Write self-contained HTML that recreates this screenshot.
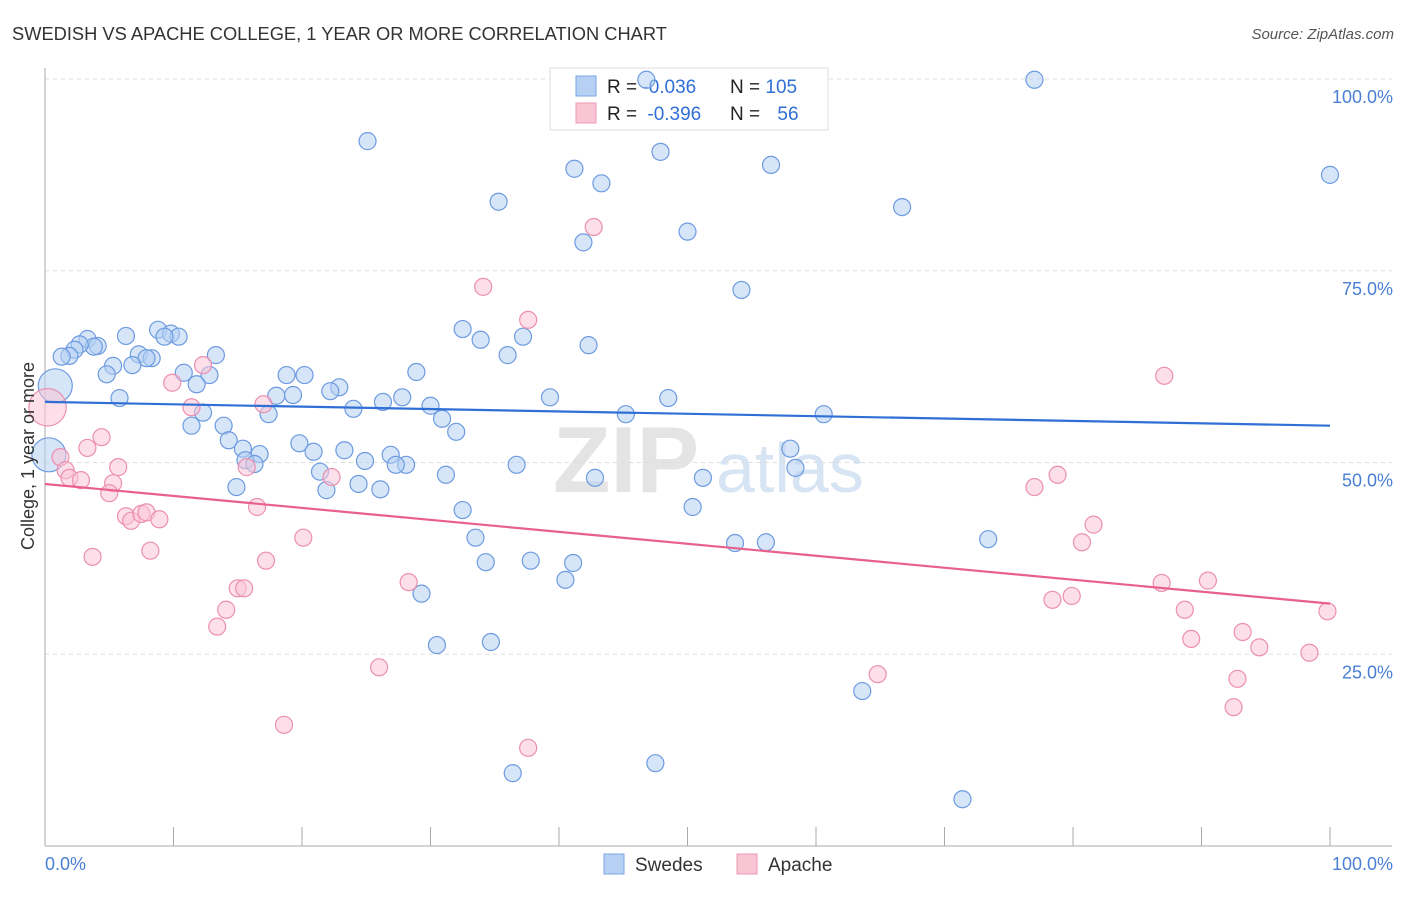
<!DOCTYPE html>
<html><head><meta charset="utf-8"><style>
body{margin:0;background:#fff;font-family:"Liberation Sans",sans-serif;}
svg text{font-family:"Liberation Sans",sans-serif;}
</style></head><body>
<svg id="chart" width="1406" height="892" xmlns="http://www.w3.org/2000/svg">
<text x="12" y="40" font-size="18.3" fill="#333">SWEDISH VS APACHE COLLEGE, 1 YEAR OR MORE CORRELATION CHART</text>
<text x="1394" y="39" font-size="15" fill="#555" font-style="italic" text-anchor="end">Source: ZipAtlas.com</text>
<g>
<text x="553" y="492" font-size="94" font-family="Liberation Serif" fill="#e4e4e4" font-weight="bold">ZIP</text>
<text x="716" y="492" font-size="70" fill="#d6e4f3">atlas</text>
</g>
<g id="grid"></g>
<g id="axes"></g>
<g>
<rect x="550" y="68" width="278" height="62" fill="#fff" stroke="#ddd"/>
<rect x="576" y="76" width="20" height="20" fill="#b5d0f3" stroke="#7aa6e3"/>
<rect x="576" y="103" width="20" height="20" fill="#f9c5d5" stroke="#ec9ab5"/>
<text x="607" y="93" font-size="19" fill="#222">R = <tspan fill="#2f6fd6">-0.036</tspan></text>
<text x="730" y="93" font-size="19" fill="#222">N = <tspan fill="#2f6fd6">105</tspan></text>
<text x="607" y="120" font-size="19" fill="#222">R = <tspan dx="5" fill="#2f6fd6">-0.396</tspan></text>
<text x="730" y="120" font-size="19" fill="#222">N = <tspan dx="12" fill="#2f6fd6">56</tspan></text>
</g>
<g id="pts"></g>
<g id="trend"></g>
<text transform="translate(34,456) rotate(-90)" font-size="18" fill="#333" text-anchor="middle">College, 1 year or more</text>
<g>
<rect x="604" y="854" width="20" height="20" fill="#b5d0f3" stroke="#7aa6e3"/>
<text x="635" y="871" font-size="19" fill="#333">Swedes</text>
<rect x="737" y="854" width="20" height="20" fill="#f9c5d5" stroke="#ec9ab5"/>
<text x="768" y="871" font-size="19" fill="#333">Apache</text>
</g>
</svg>
<script>
const yTicks=[100,75,50,25];
const yTickLabels=["100.0%","75.0%","50.0%","25.0%"];
const xLabels=["0.0%","100.0%"];
const blueX=[46.8,77.0,25.1,41.2,47.9,43.3,56.5,100,35.3,66.7,41.9,50.0,54.2,32.5,33.9,37.2,36.0,42.3,8.8,9.8,10.4,6.3,9.3,3.3,4.1,3.8,2.7,2.3,1.9,1.3,13.3,7.3,8.3,7.9,6.8,5.3,4.8,12.8,10.8,11.8,18.8,20.2,28.9,22.9,22.2,19.3,18.0,27.8,39.3,48.5,5.8,24.0,26.3,30.0,12.3,17.4,30.9,45.2,60.6,11.4,13.9,32.0,14.3,15.4,19.8,16.7,20.9,23.3,26.9,15.6,16.3,24.9,28.1,27.3,36.7,58.0,58.4,21.4,31.2,42.8,51.2,14.9,21.9,24.4,26.1,32.5,50.4,33.5,53.7,56.1,73.4,34.3,37.8,41.1,40.5,29.3,30.5,34.7,63.6,36.4,47.5,71.4,0.8,0.3];
const blueY=[99.9,99.9,91.9,88.3,90.5,86.4,88.8,87.5,84.0,83.3,78.7,80.1,72.5,67.4,66.0,66.4,64.0,65.3,67.3,66.8,66.4,66.5,66.4,66.1,65.2,65.1,65.4,64.7,63.9,63.8,64.0,64.1,63.6,63.6,62.7,62.6,61.5,61.4,61.7,60.2,61.4,61.4,61.8,59.8,59.3,58.8,58.7,58.5,58.5,58.4,58.4,57.0,57.9,57.4,56.5,56.3,55.7,56.3,56.3,54.8,54.8,54.0,52.9,51.8,52.5,51.1,51.4,51.6,51.0,50.3,49.8,50.2,49.7,49.7,49.7,51.8,49.3,48.8,48.4,48.0,48.0,46.8,46.4,47.2,46.5,43.8,44.2,40.2,39.5,39.6,40.0,37.0,37.2,36.9,34.7,32.9,26.2,26.6,20.2,9.5,10.8,6.1,60.0,51.0];
const blueSize=blueX.map((v,i)=>i>=blueX.length-2?2:1);
const pinkX=[42.7,34.1,37.6,12.3,9.9,11.4,17.0,87.1,4.4,3.3,1.2,5.7,15.7,22.3,1.6,1.9,2.8,5.3,5.0,16.5,78.8,77.0,6.3,6.7,7.5,7.9,8.9,20.1,81.6,80.7,8.2,3.7,17.2,28.3,86.9,90.5,15.0,15.5,14.1,13.4,78.4,79.9,88.7,89.2,93.2,94.5,98.4,99.8,26.0,64.8,92.8,92.5,18.6,37.6,0.2];
const pinkY=[80.7,72.9,68.6,62.7,60.4,57.2,57.6,61.3,53.3,51.9,50.7,49.4,49.4,48.1,49.0,48.0,47.7,47.3,46.0,44.2,48.4,46.8,43.0,42.4,43.3,43.5,42.6,40.2,41.9,39.6,38.5,37.7,37.2,34.4,34.3,34.6,33.6,33.6,30.8,28.6,32.1,32.6,30.8,27.0,27.9,25.9,25.2,30.6,23.3,22.4,21.8,18.1,15.8,12.8,57.2];
const pinkSize=pinkX.map((v,i)=>i===pinkX.length-1?2.2:1);
const blueTrend=[57.9,54.8];
const pinkTrend=[47.2,31.6];
const X0=45,X1=1330,Y0=846,Y100=79;
const sx=v=>X0+(X1-X0)*v/100;
const sy=v=>Y0+(Y100-Y0)*v/100;
const NS="http://www.w3.org/2000/svg";
function mk(tag,attrs,parent){const e=document.createElementNS(NS,tag);for(const k in attrs)e.setAttribute(k,attrs[k]);document.getElementById(parent).appendChild(e);return e;}
yTicks.forEach((t,i)=>{
  const g=mk('line',{x1:45,x2:1392,y1:sy(t),y2:sy(t),stroke:'#ddd','stroke-dasharray':'4,4'},'grid');
  
  
  const l=mk('text',{x:1393,y:sy(t)+24,'font-size':18,fill:'#4a7fd4','text-anchor':'end'},'grid');
  l.textContent=yTickLabels[i];
  
  
});
const ax=mk('line',{x1:45,x2:45,y1:68,y2:846,stroke:'#aaa'},'axes');


const bx=mk('line',{x1:45,x2:1392,y1:846,y2:846,stroke:'#aaa'},'axes');


for(let i=0;i<=10;i++){
  const t=mk('line',{x1:sx(i*10),x2:sx(i*10),y1:827,y2:846,stroke:'#aaa'},'axes');
  
  
}
const xl0=mk('text',{x:45,y:870,'font-size':18,fill:'#4a7fd4'},'axes');xl0.textContent=xLabels[0];


const xl1=mk('text',{x:1393,y:870,'font-size':18,fill:'#4a7fd4','text-anchor':'end'},'axes');xl1.textContent=xLabels[1];


function pts(xs,ys,sz,fill,stroke,name){
  xs.forEach((x,i)=>{
    const c=mk('circle',{cx:sx(x),cy:sy(ys[i]),r:8.5*sz[i],fill:fill,'fill-opacity':0.55,stroke:stroke,'stroke-width':1.2},'pts');
    
    
  });
}
pts(blueX,blueY,blueSize,'#b5d0f3','#6d9be0','swedes-point');
pts(pinkX,pinkY,pinkSize,'#f9c5d5','#ec8fb0','apache-point');
const bl=mk('line',{x1:sx(0),x2:sx(100),y1:sy(blueTrend[0]),y2:sy(blueTrend[1]),stroke:'#2f6fd6','stroke-width':2.2},'trend');


const pl=mk('line',{x1:sx(0),x2:sx(100),y1:sy(pinkTrend[0]),y2:sy(pinkTrend[1]),stroke:'#e8608e','stroke-width':2.2},'trend');


</script>
</body></html>
